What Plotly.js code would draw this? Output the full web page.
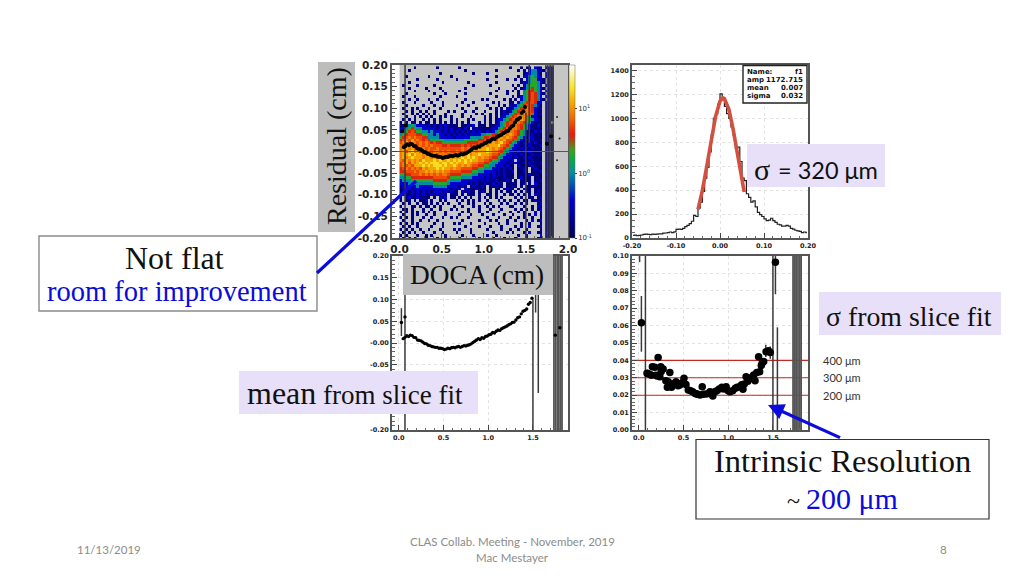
<!DOCTYPE html>
<html><head><meta charset="utf-8">
<script src="https://cdn.plot.ly/plotly-3.0.1.min.js"></script>
<style>html,body{margin:0;padding:0;background:#fff}#c{width:1024px;height:576px}</style>
</head><body><div id="c"></div>
<script>
// log10(count) for each level character of the 2D histogram
const levelValues = {'1':-0.8,'2':-0.45,'3':0.0,'4':0.3,'5':0.58,'6':0.76,'7':0.92,'8':1.08,'9':1.3};
// residual vs DOCA, top row first, columns left to right (0 to 2 cm)
const residualRows = [
".....1.... ...1...... .1........ .........1 ...1.11.21 2.111.....",
"...1...... .......... ...1...... ....1..... ..1.1.2332 21.21.....",
".......... ....1..... ......1... .1........ ....122332 1.211.....",
"..1....... 1.......1. .......... ....1..... ..1.223432 2.121.....",
"......1... ...1...... 1......... .1......1. .1.1.23442 21.11.....",
"...1...... .....1.... ....1..... ....1..... ...1223443 21.11.....",
".1....1... ..1....... ......1... ..1....... 1.1.234443 2.121.....",
"...1.....1 ....1..... ...1...... .....1.... .1.1234543 21.11.....",
".....1.... 1....1.... .1........ ....1...1. 1.1.345543 2.211.....",
"..1....... ..1...1... ...1...... ..1.....1. ..1.345653 21.11.....",
".1...1.... ....1..... 1......... ....1..... 1.12345653 2.211.....",
"...1..1... 1..1...... ...1.....1 .1.....1.1 .1.2345653 21.21.....",
".1...1.... .1...1.... ..1...1... ...1.1...1 1.23456652 2.111.....",
"..1.....1. ..1..1.... 1...1..... .1...1.1.2 1234566532 1.211.....",
".1..1.1... 1...1..... ..1....1.. ..1.1.1.21 2345676521 2.111.....",
"..1.1..1.1 ..1....1.1 ...1..1... 1...1.1212 3456776521 1.211.....",
".1..1.1.1. 1.1...1... ..1....1.1 ..1.1.1223 4567776421 2.111.....",
"..1..1.1.1 .1..1.1.1. ..1..1.... 1.1.1.2234 5677764221 1.211.....",
".1.1.1..1. 1.1.1...1. 1...1.1... 1.1.122345 6778764321 1.111.....",
"1.1.11.1.1 1.1.1.1.1. 1.1.1...1. 1.1.123456 6776543211 1.11......",
"1123432221 2121212111 1.11212.11 1.11223456 7765432112 1.111.....",
"2234543322 2221212121 12121.1211 1112234567 7765432111 1.211.....",
"2345654433 2322212121 2121212121 1212345677 7654321121 2.111.....",
"3456665544 3323221212 1212122223 3445567878 7654321211 1.111.....",
"4567676655 3333222221 2222233334 5566678787 6543212211 1.211.....",
"5676867656 5444443333 3334444455 6567687866 5432121211 2.111.....",
"6786876767 6565544444 4444555566 7678789765 4321212121 1.121.....",
"7686886767 6766655655 5565656677 8788897654 3221212111 2.111.....",
"7887868776 7667666666 6676767788 8987876543 2212121211 1.211.....",
"7868978687 7677676766 7676878788 8987765432 2121212111 1.111.....",
"7889798878 7786777677 8788978898 8876654322 1212111211 2.111.....",
"7878988878 8787878788 8898989878 7765543222 1211212111 1.211.....",
"7687878798 8898988989 8989898877 6654432221 2.21111211 1.111.....",
"6786878989 8999899898 9889887766 5543322212 1211212111 2.111.....",
"6767688898 9899989889 8787876655 4433222121 1.21111211 1.211.....",
"5676767687 8889898878 7766665544 3332221212 1.1121.121 1.111.....",
"5566676778 7878787766 6655554433 2222121211 2.1121.111 2.111.....",
"4455666767 6767677655 5544443322 2212121211 1.11112111 1.211.....",
"3344555555 5566666544 4433332222 1212111211 1.12111.11 1.111.....",
"2333444444 4455555433 3322222212 1211211121 .1.1111.11 2.111.....",
"2223333333 3344444322 2222121211 2112121.11 11.12.1.21 1.211.....",
"1222223222 2233333222 2121.12112 1.11211.11 21.1.11211 1.111.....",
"1212122222 2222222212 12.2111211 1.1.11.121 1.1.211.11 1.111.....",
"1121212121 2122212121 1.21211.12 1.1.1.1.11 .1.1.21.12 1.211.....",
"1211212121 1212121.11 1.1.111.1. .11.1..1.1 1.1.1.1.21 1.111.....",
"1.12112111 1.1.212.11 .1.1.1..1. 1.1.1.1... .1.1..11.1 2.111.....",
"1.11.1.112 .1..1.1... 1.1.1.1.1. .1...1.1.1 ..1.11.121 1.111.....",
".1.1..1.11 .1.1.1.1.. .1..1.1... 1.1...1.1. .1.1.2...1 2.111.....",
"1...11.1.1 1.1.1....1 ..1...1.1. .1.1.1...1 1...1..1.2 1.211.....",
".11.1...1. .1..1...1. 1...1...1. ..1...1... .1.1.1.1.1 2.111.....",
"1.1.1.1.1. 1.1...1... ..1.1...1. .1...1...1 ..1.1...2. 1.111.....",
".1..1.1..1 ..1...1... .1...1...1 ...1...1.. 1...1.1.2. 1.111.....",
"1.1.1...1. .1...1..1. 1...1..... .1...1...1 ..1.1..1.. 1.111.....",
".1..1..1.. 1..1...... ..1.....1. ..1.1...1. .1...1.2.1 2.111.....",
"1.1.1.1... ..1..1...1 .1...1.... 1....1..1. ...1..1... 1.111.....",
".1.1..1... .1...1.... ...1....1. ..1...1... .1.1..2..1 2.111.....",
"1.1.1..1.. 1...1....1 .1...1.... .1....1..1 ..1..1.... 1.111.....",
".1.1.1..1. ..1..1.... 1....1.... ...1....1. 1...1.2..1 1.211.....",
"1.1...1..1 .1....1... ..1...1... .1..1..... ..1..2.... 2.111.....",
".1.1.1...1 ...1..1... .1......1. ...1...1.. .1...2...1 1.111....."
];
const meanX = [0.05,0.07,0.09,0.11,0.13,0.15,0.17,0.19,0.21,0.23,0.25,0.27,0.29,0.31,0.33,0.35,0.37,0.39,0.41,0.43,0.45,0.47,0.49,0.51,0.53,0.55,0.57,0.59,0.61,0.63,0.65,0.67,0.69,0.71,0.73,0.75,0.77,0.79,0.81,0.83,0.85,0.87,0.89,0.91,0.93,0.95,0.97,0.99,1.01,1.03,1.05,1.07,1.09,1.11,1.13,1.15,1.17,1.19,1.21,1.23,1.25,1.27,1.29,1.31,1.33,1.35,1.37,1.39,1.41,1.43,1.45,1.47,1.49,0.03,0.07,1.75,1.80];
const meanY = [0.010,0.013,0.017,0.015,0.018,0.017,0.013,0.012,0.007,0.006,0.005,0.002,-0.001,-0.002,-0.005,-0.006,-0.008,-0.009,-0.010,-0.010,-0.012,-0.012,-0.013,-0.015,-0.014,-0.012,-0.013,-0.011,-0.010,-0.011,-0.009,-0.008,-0.010,-0.008,-0.006,-0.007,-0.005,-0.004,-0.002,0.001,0.004,0.007,0.010,0.008,0.012,0.011,0.015,0.016,0.019,0.020,0.024,0.023,0.027,0.030,0.029,0.033,0.035,0.037,0.039,0.042,0.044,0.047,0.048,0.053,0.058,0.060,0.067,0.073,0.075,0.078,0.089,0.093,0.103,0.047,0.060,0.018,0.035];
const strayX = [1.87,1.90,1.80,1.87];
const strayY = [0.080,0.030,0.040,-0.020];
const meanBarX = [0.03,0.07,1.50,1.53,1.56];
const meanBarLo = [0.016,-0.20,-0.20,0.07,-0.115];
const meanBarHi = [0.080,0.20,0.10,0.20,0.20];
const resBarX = [0.065,1.50,1.54];
const resBarLo = [-0.20,-0.20,0.02];
const resBarHi = [0.20,0.09,0.20];
const bandX = [1.735,1.755,1.775,1.79,1.81,1.825];
const histStart = -0.1975;
const histStep = 0.005;
const histCounts = [22,24,20,22,25,30,32,30,28,32,30,33,35,34,40,42,45,50,45,52,72,75,72,80,95,105,120,140,190,180,250,300,390,500,590,720,860,1000,1040,1120,1205,1170,1100,1040,1000,930,860,750,760,640,500,480,370,340,300,310,260,215,195,180,160,145,150,165,145,130,115,110,100,100,105,100,80,75,65,60,55,45,50,45];
const fitX = [-0.05,-0.04,-0.03,-0.02,-0.01,0,0.007,0.01,0.02,0.03,0.04,0.05,0.055];
const fitY = [240,398,601,821,1018,1144,1172,1167,1079,906,689,475,385];
const sigmaX = [0.03,0.093,0.123,0.153,0.18,0.217,0.206,0.247,0.236,0.273,0.303,0.348,0.33,0.367,0.416,0.46,0.506,0.528,0.554,0.603,0.648,0.685,0.71,0.753,0.797,0.828,0.873,0.929,0.977,1.02,1.08,1.127,1.165,1.2,1.247,1.285,1.3,1.34,1.352,1.397,1.423,1.47,1.528,0.10,0.14,0.19,0.25,0.32,0.38,0.44,0.48,0.58,0.63,0.66,0.72,0.78,0.82,0.85,0.90,0.95,1.00,1.05,1.10,1.15,1.18,1.22,1.27,1.32,1.37,1.38,1.45];
const sigmaY = [0.0617,0.0326,0.032,0.0364,0.036,0.0416,0.031,0.0364,0.0306,0.035,0.0283,0.033,0.0278,0.0245,0.0278,0.0259,0.0297,0.0262,0.023,0.022,0.0207,0.0201,0.0249,0.0207,0.022,0.0195,0.0226,0.0245,0.0249,0.022,0.024,0.0249,0.0234,0.0306,0.0297,0.0316,0.0283,0.0421,0.0335,0.0393,0.045,0.0446,0.0964,0.0325,0.0315,0.0315,0.0335,0.0245,0.0265,0.0255,0.027,0.0225,0.021,0.0205,0.0205,0.021,0.021,0.022,0.0235,0.0235,0.0225,0.0225,0.0245,0.026,0.0265,0.028,0.0305,0.033,0.037,0.0385,0.0455];
const sigmaBarX = [0.01,0.03,0.075,1.42,1.47,1.50,1.528,1.55];
const sigmaBarLo = [0.0965,0.045,0,0.042,0.041,0,0.078,0];
const sigmaBarHi = [0.10,0.077,0.10,0.049,0.048,0.10,0.10,0.059];
const sigmaBandX = [1.725,1.745,1.76,1.78,1.80,1.815];
const sigmaRefY = [0.02,0.03,0.04];
const cmTicks = [0,0.5,1,1.5];
const cmLabels = ["0.0","0.5","1.0","1.5"];
const resTicks = [0.2,0.15,0.1,0.05,0,-0.05,-0.1,-0.15,-0.2];
const resLabels = ["0.20","0.15","0.10","0.05","-0.00","-0.05","-0.10","-0.15","-0.20"];
const meanTicks = [0.2,0.15,0.1,0.05,0,-0.05,-0.2];
const meanLabels = ["0.20","0.15","0.10","0.05","-0.00","-0.05","-0.20"];
const countTicks = [0,200,400,600,800,1000,1200,1400];
const histXTicks = [-0.2,-0.1,0,0.1,0.2];
const histXLabels = ["-0.20","-0.10","0.00","0.10","0.20"];
const sigmaTicks = [0,0.01,0.02,0.03,0.04,0.05,0.06,0.07,0.08,0.09,0.1];
const sigmaLabels = ["0.00","0.01","0.02","0.03","0.04","0.05","0.06","0.07","0.08","0.09","0.10"];
const statRows = [["Name:","f1"],["amp","1172.715"],["mean","0.007"],["sigma","0.032"]];

const W = 1024, H = 576;
const px = x => x / W, py = y => 1 - y / H;
const BLUE = '#0b0bdc', LAV = '#e8e0f8', GRAYBOX = '#bdbdbd', FRAME = '#555';
const tickBold = "'DejaVu Sans'";

function segs(xs, lo, hi) {
  const X = [], Y = [];
  xs.forEach((v, i) => { X.push(v, v, null); Y.push(lo[i], hi[i], null); });
  return {x: X, y: Y};
}
function bars(xs, lo, hi, ax, ay, color, width) {
  const s = segs(xs, lo, hi);
  return {type:'scatter', mode:'lines', x:s.x, y:s.y, xaxis:ax, yaxis:ay, line:{color, width}, hoverinfo:'skip', showlegend:false};
}
function hline(ys, x0, x1, ax, ay) {
  const X = [], Y = [];
  ys.forEach(v => { X.push(x0, x1, null); Y.push(v, v, null); });
  return {type:'scatter', mode:'lines', x:X, y:Y, xaxis:ax, yaxis:ay, line:{color:'#c4281e', width:1.1}, hoverinfo:'skip', showlegend:false};
}
const z = residualRows.map(r => r.replace(/ /g,'').split('').map(c => c === '.' ? null : levelValues[c]));

const colorscale = [[0,'#00004e'],[0.12,'#00009a'],[0.22,'#0000d8'],[0.32,'#0060b0'],[0.38,'#0090a0'],[0.46,'#10a840'],[0.51,'#40a020'],[0.55,'#906018'],[0.6,'#ee1808'],[0.7,'#f07000'],[0.78,'#f4a800'],[0.87,'#f8e428'],[1,'#ffffff']];

const traces = [
  {type:'heatmap', z, x0:1/60, dx:1/30, y0:0.2-0.2/30, dy:-0.4/60, xaxis:'x', yaxis:'y', zmin:-1, zmax:1.68, colorscale, hoverinfo:'skip',
   colorbar:{x:px(569), xanchor:'left', y:py(238), yanchor:'bottom', len:173/H, lenmode:'fraction', thickness:6, xpad:0, ypad:0, outlinewidth:0.5, outlinecolor:'#666',
     tickmode:'array', tickvals:[-1,0,1], ticktext:['10<sup>-1</sup>','10<sup>0</sup>','10<sup>1</sup>'], ticks:'outside', ticklen:2, tickfont:{family:tickBold,size:7,color:'#333'}}},
  bars(resBarX,resBarLo,resBarHi,'x','y','#3a3a3a',1.5),
  bars(bandX,bandX.map(()=>-0.2),bandX.map(()=>0.2),'x','y','#444',1.2),
  hline([0],-0.09,2,'x','y'),
  {type:'scatter', mode:'markers', x:meanX, y:meanY, xaxis:'x', yaxis:'y', marker:{color:'#000',size:4}, hoverinfo:'skip', showlegend:false},
  {type:'scatter', mode:'markers', x:strayX, y:strayY, xaxis:'x', yaxis:'y', marker:{color:'#222',size:2}, hoverinfo:'skip', showlegend:false},

  {type:'scatter', mode:'lines', x0:histStart, dx:histStep, y:histCounts, xaxis:'x2', yaxis:'y2', line:{color:'#222',width:1.2,shape:'hvh'}, hoverinfo:'skip', showlegend:false},
  {type:'scatter', mode:'lines', x:fitX, y:fitY, xaxis:'x2', yaxis:'y2', line:{color:'#d2503f',width:3.6}, hoverinfo:'skip', showlegend:false},

  bars(meanBarX,meanBarLo,meanBarHi,'x3','y3','#3a3a3a',1.5),
  bars(bandX,bandX.map(()=>-0.2),bandX.map(()=>0.2),'x3','y3','#555',1.8),
  {type:'scatter', mode:'markers', x:meanX, y:meanY, xaxis:'x3', yaxis:'y3', marker:{color:'#000',size:3.4}, hoverinfo:'skip', showlegend:false},

  hline(sigmaRefY,-0.075,1.892,'x4','y4'),
  bars(sigmaBarX,sigmaBarLo,sigmaBarHi,'x4','y4','#3a3a3a',1.5),
  bars(sigmaBandX,sigmaBandX.map(()=>0),sigmaBandX.map(()=>0.1),'x4','y4','#555',1.8),
  {type:'scatter', mode:'markers', x:sigmaX, y:sigmaY, xaxis:'x4', yaxis:'y4', marker:{color:'#000',size:7.5}, hoverinfo:'skip', showlegend:false}
];

function axisBase(extra, fontSize) {
  return Object.assign({
    showline:true, linecolor:FRAME, linewidth:2, mirror:true, ticks:'inside', ticklen:5, tickcolor:'#444', tickwidth:1,
    zeroline:false, showgrid:false, gridcolor:'#e3e3e3', griddash:'dot', gridwidth:1,
    tickfont:{family:tickBold, size:fontSize, color:'#222', weight:'bold'}, tickmode:'array', fixedrange:true
  }, extra);
}
function minor(dtick, tick0) { return {ticks:'inside', ticklen:2.5, tickcolor:'#666', tickmode:'linear', dtick, tick0:tick0||0, showgrid:false}; }

const shapes = [
  {type:'rect', xref:'x', yref:'y', layer:'below', x0:0, x1:2, y0:-0.2, y1:0.2, fillcolor:'#c6c6c6', line:{width:0}},
  {type:'rect', xref:'paper', yref:'paper', x0:px(743), x1:px(807), y0:py(103), y1:py(65.5), fillcolor:'#fff', line:{color:'#222',width:1.4}},
  {type:'rect', xref:'paper', yref:'paper', x0:px(318), x1:px(355), y0:py(232), y1:py(62), fillcolor:GRAYBOX, line:{width:0}},
  {type:'rect', xref:'paper', yref:'paper', x0:px(403), x1:px(553), y0:py(295), y1:py(254), fillcolor:GRAYBOX, line:{width:0}},
  {type:'rect', xref:'paper', yref:'paper', x0:px(239), x1:px(478), y0:py(414), y1:py(371), fillcolor:LAV, line:{width:0}},
  {type:'rect', xref:'paper', yref:'paper', x0:px(747), x1:px(885), y0:py(187), y1:py(144), fillcolor:LAV, line:{width:0}},
  {type:'rect', xref:'paper', yref:'paper', x0:px(819), x1:px(1001), y0:py(335), y1:py(292), fillcolor:LAV, line:{width:0}},
  {type:'rect', xref:'paper', yref:'paper', x0:px(39), x1:px(317), y0:py(311), y1:py(236), fillcolor:'#fff', line:{color:'#8a8a8a',width:1.4}},
  {type:'rect', xref:'paper', yref:'paper', x0:px(696), x1:px(989), y0:py(519), y1:py(439.5), fillcolor:'#fff', line:{color:'#333',width:1.2}},
  {type:'line', xref:'paper', yref:'paper', x0:px(317), y0:py(273), x1:px(416), y1:py(181), line:{color:BLUE,width:3.2}}
];
const SERIF = "'Liberation Serif'", SANS = "Lato";
function note(text, x, y, size, color, family, anchor, extra) {
  return Object.assign({xref:'paper', yref:'paper', x:px(x), y:py(y), text, showarrow:false, xanchor:anchor||'center', yanchor:'middle',
    font:{family:family||SERIF, size, color:color||'#111'}}, extra||{});
}
const annotations = [
  note('Residual (cm)', 336, 146, 28, '#111', SERIF, 'center', {textangle:-90}),
  note('DOCA (cm)', 477, 275, 27.3),
  note('Not flat', 174, 258, 32),
  note('room for improvement', 177, 291, 28.5, BLUE),
  note('mean<span style="font-size:27px"> from slice fit</span>', 245, 393, 32, '#111', SERIF, 'left'),
  note('σ', 752, 170, 30, '#111', SERIF, 'left'),
  note('= 320 μm', 776, 170, 23.5, '#111', SANS, 'left'),
  note('σ from slice fit', 909, 316, 27.8),
  note('400 μm', 821, 360, 11, '#333', SANS, 'left'),
  note('300 μm', 821, 377, 11, '#333', SANS, 'left'),
  note('200 μm', 821, 395, 11, '#333', SANS, 'left'),
  note('Intrinsic Resolution', 842, 461, 32.5),
  note('~ <span style="font-size:30px;fill:#0b0bdc">200 μm</span>', 842, 498, 24),
  note('11/13/2019', 109, 549, 11.5, '#8c8c8c', SANS),
  note('CLAS Collab. Meeting - November, 2019', 512, 541, 11.5, '#8c8c8c', SANS),
  note('Mac Mestayer', 512, 557, 11.5, '#8c8c8c', SANS),
  note('8', 943, 549, 11.5, '#8c8c8c', SANS),
  {xref:'paper', yref:'paper', x:px(768), y:py(405), text:' ', showarrow:true, ax:75, ay:34, arrowcolor:BLUE, arrowwidth:3.2, arrowhead:2, arrowsize:1}
];
statRows.forEach((r, i) => {
  const y = [71.7, 79.8, 87.8, 96][i];
  annotations.push(note(r[0], 745, y, 7, '#111', tickBold, 'left', {font:{family:tickBold,size:7,color:'#111',weight:'bold'}}));
  annotations.push(note(r[1], 805, y, 7, '#111', tickBold, 'right', {font:{family:tickBold,size:7,color:'#111',weight:'bold'}}));
});

const layout = {
  width:W, height:H, margin:{l:0,r:0,t:0,b:0}, paper_bgcolor:'#fff', plot_bgcolor:'#fff', showlegend:false,
  xaxis: axisBase({domain:[px(392),px(568)], range:[-0.09,2], anchor:'y', tickvals:cmTicks.concat([2]), ticktext:cmLabels.concat(['2.0']), minor:minor(0.1)}, 10.5),
  yaxis: axisBase({domain:[py(238),py(65)], range:[-0.2,0.2], anchor:'x', tickvals:resTicks, ticktext:resLabels, minor:minor(0.01)}, 10.5),
  xaxis2: axisBase({domain:[px(632),px(808)], range:[-0.2,0.2], anchor:'y2', tickvals:histXTicks, ticktext:histXLabels, showgrid:true, minor:minor(0.02)}, 6.5),
  yaxis2: axisBase({domain:[py(238),py(65)], range:[0,1447], anchor:'x2', tickvals:countTicks, ticktext:countTicks.map(String), showgrid:true, minor:minor(50)}, 6.5),
  xaxis3: axisBase({domain:[px(392),px(568)], range:[-0.075,1.892], anchor:'y3', tickvals:cmTicks, ticktext:cmLabels, showgrid:true, minor:minor(0.1)}, 6.5),
  yaxis3: axisBase({domain:[py(430),py(256)], range:[-0.2,0.2], anchor:'x3', tickvals:meanTicks, ticktext:meanLabels, showgrid:true, minor:minor(0.01)}, 6.5),
  xaxis4: axisBase({domain:[px(632),px(808)], range:[-0.075,1.892], anchor:'y4', tickvals:cmTicks, ticktext:cmLabels, showgrid:true, minor:minor(0.1)}, 6.5),
  yaxis4: axisBase({domain:[py(430),py(256)], range:[0,0.1], anchor:'x4', tickvals:sigmaTicks, ticktext:sigmaLabels, showgrid:true, minor:minor(0.002)}, 6.5),
  shapes, annotations
};
Plotly.newPlot('c', traces, layout, {displayModeBar:false, staticPlot:true});
</script></body></html>
